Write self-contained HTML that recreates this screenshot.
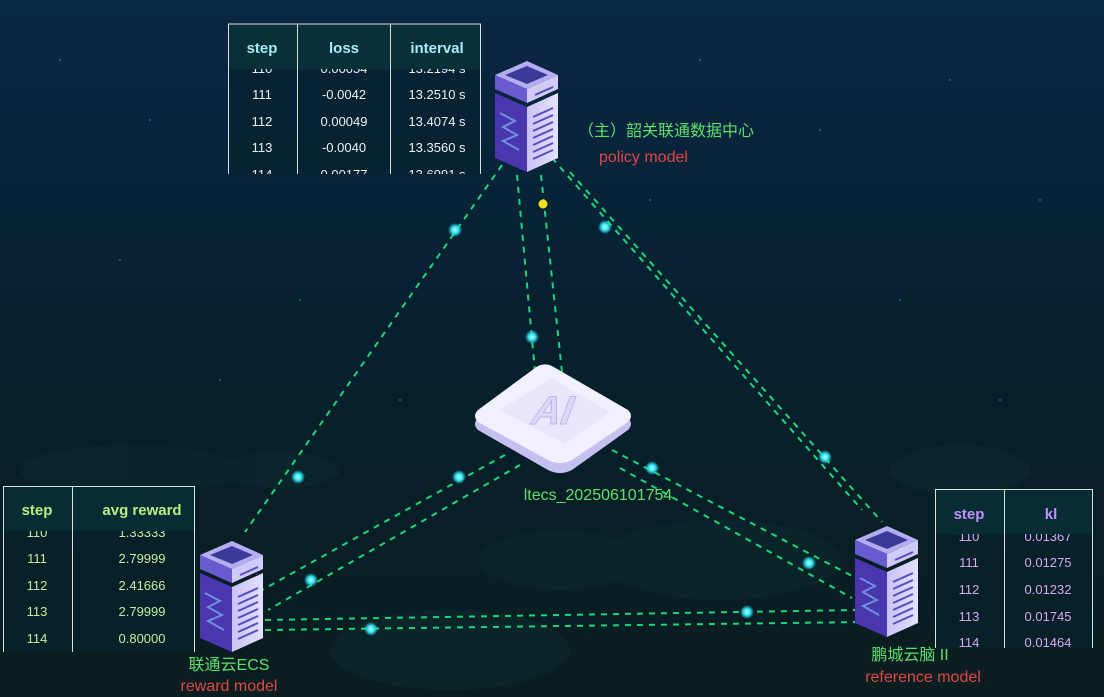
<!DOCTYPE html>
<html><head><meta charset="utf-8"><style>
html,body{margin:0;padding:0;width:1104px;height:697px;overflow:hidden;background:#071c2c}
svg{display:block}
text{font-family:"Liberation Sans","Noto Sans CJK SC",sans-serif}
</style></head><body>
<svg width="1104" height="697" viewBox="0 0 1104 697" xmlns="http://www.w3.org/2000/svg">
<defs>
<linearGradient id="bg" x1="0" y1="0" x2="0" y2="1">
<stop offset="0" stop-color="#0a2744"/><stop offset="0.5" stop-color="#07202e"/><stop offset="1" stop-color="#0a1e20"/>
</linearGradient>
<radialGradient id="dot"><stop offset="0" stop-color="#bff"/><stop offset="0.5" stop-color="#2de0f0"/><stop offset="1" stop-color="#2de0f0" stop-opacity="0"/></radialGradient>
<linearGradient id="front" x1="0" y1="0" x2="1" y2="0"><stop offset="0" stop-color="#c9c3f3"/><stop offset="1" stop-color="#e4e1ff"/></linearGradient>
<clipPath id="c1"><rect x="228" y="69" width="253" height="105"/></clipPath>
<clipPath id="c2"><rect x="3" y="531" width="192" height="121"/></clipPath>
<clipPath id="c3"><rect x="935" y="534" width="158" height="114"/></clipPath>
<g id="srv">
<polygon points="0,20 32,6 63,20 32,34" fill="#b4aef0"/>
<polygon points="10,20 32,11 53,20 32,29" fill="#3b3a9a"/>
<polygon points="0,20 32,34 32,48 0,34" fill="#6a5bd0"/>
<polygon points="32,34 63,20 63,34 32,48" fill="#cfcaf7"/>
<polygon points="0,38 32,52 32,117 0,103" fill="#4a37b0"/>
<polygon points="32,52 63,38 63,103 32,117" fill="url(#front)"/>
<g stroke="#5a4cc0" stroke-width="2"><line x1="38" y1="62" x2="58" y2="53"/><line x1="38" y1="69" x2="58" y2="60"/><line x1="38" y1="76" x2="58" y2="67"/><line x1="38" y1="83" x2="58" y2="74"/><line x1="38" y1="90" x2="58" y2="81"/><line x1="38" y1="97" x2="58" y2="88"/><line x1="38" y1="104" x2="58" y2="95"/><line x1="40" y1="40" x2="58" y2="32"/></g>
<path d="M5,58 L20,66 L8,72 L22,80 L8,86 L24,95" stroke="#7fb8f0" stroke-width="2" fill="none" opacity="0.7"/>
</g>
</defs>
<rect width="1104" height="697" fill="url(#bg)"/>
<g fill="#0e3034" opacity="0.35"><ellipse cx="130" cy="470" rx="110" ry="25"/><ellipse cx="280" cy="470" rx="60" ry="18"/><ellipse cx="560" cy="560" rx="80" ry="30"/><ellipse cx="720" cy="560" rx="120" ry="40"/><ellipse cx="960" cy="470" rx="70" ry="25"/><ellipse cx="450" cy="650" rx="120" ry="40"/></g>
<g fill="#3a8aa0" opacity="0.5">
<circle cx="60" cy="60" r="1.2"/><circle cx="150" cy="120" r="1.2"/><circle cx="700" cy="60" r="1.2"/><circle cx="820" cy="130" r="1.2"/><circle cx="950" cy="80" r="1.2"/><circle cx="1040" cy="200" r="1.2"/><circle cx="300" cy="300" r="1.2"/><circle cx="120" cy="260" r="1.2"/><circle cx="900" cy="300" r="1.2"/><circle cx="700" cy="320" r="1.2"/><circle cx="400" cy="400" r="1.2"/><circle cx="1000" cy="400" r="1.2"/><circle cx="220" cy="380" r="1.2"/><circle cx="650" cy="200" r="1.2"/></g>
<g stroke="#18d878" stroke-width="2" stroke-dasharray="6,6" fill="none">
<line x1="502" y1="165" x2="245" y2="532"/>
<line x1="517" y1="175" x2="535" y2="372"/>
<line x1="541" y1="175" x2="562" y2="372"/>
<line x1="552" y1="158" x2="862" y2="510"/>
<line x1="570" y1="172" x2="882" y2="522"/>
<line x1="505" y1="455" x2="262" y2="590"/>
<line x1="520" y1="465" x2="268" y2="610"/>
<line x1="612" y1="450" x2="856" y2="578"/>
<line x1="620" y1="468" x2="852" y2="598"/>
<line x1="265" y1="620" x2="856" y2="610"/>
<line x1="265" y1="630" x2="862" y2="622"/>
</g>
<g fill="url(#dot)">
<circle cx="455" cy="230" r="7"/><circle cx="298" cy="477" r="7"/><circle cx="532" cy="337" r="7"/><circle cx="605" cy="227" r="7"/><circle cx="825" cy="457" r="7"/><circle cx="459" cy="477" r="7"/><circle cx="311" cy="580" r="7"/><circle cx="652" cy="468" r="7"/><circle cx="809" cy="563" r="7"/><circle cx="371" cy="629" r="7"/><circle cx="747" cy="612" r="7"/></g>
<circle cx="543" cy="204" r="4.5" fill="#f0e020"/>
<g>
<path d="M552,372 L628,418 Q634,424 628,430 L572,470 Q560,476 548,470 L478,430 Q472,424 478,418 L535,374 Q543,368 552,372Z" fill="#c5c0ef"/>
<path d="M552,366 L628,410 Q634,416 628,422 L572,460 Q560,466 548,460 L478,422 Q472,416 478,410 L535,368 Q543,362 552,366Z" fill="#f1f0ff"/>
<path d="M551,378 L610,412 L565,444 L500,410Z" fill="#e8e6fb"/>
<text x="553" y="424" font-size="40" font-weight="bold" fill="#dcd8f6" stroke="#b9b3ea" transform="skewX(-20)" text-anchor="middle" dx="150">AI</text>
</g>
<use href="#srv" x="495" y="55"/>
<use href="#srv" x="200" y="535"/>
<use href="#srv" x="855" y="520"/>
<text x="578" y="136" font-size="16" fill="#5ee06a">（主）韶关联通数据中心</text>
<text x="599" y="162" font-size="16" fill="#e04848">policy model</text>
<text x="598" y="500" font-size="16" fill="#5ee06a" text-anchor="middle">ltecs_202506101754</text>
<text x="229" y="670" font-size="16" fill="#5ee06a" text-anchor="middle">联通云ECS</text>
<text x="229" y="691" font-size="16" fill="#e04848" text-anchor="middle">reward model</text>
<text x="910" y="660" font-size="16" fill="#5ee06a" text-anchor="middle">鹏城云脑 II</text>
<text x="923" y="682" font-size="16" fill="#e04848" text-anchor="middle">reference model</text>
<!-- policy table -->
<g font-size="13" fill="#e8f4f4" text-anchor="middle">
<rect x="228" y="24" width="253" height="150" fill="#06222c" opacity="0.6"/>
<g clip-path="url(#c1)">
<text x="262" y="73">110</text><text x="344" y="73">0.00054</text><text x="437" y="73">13.2194 s</text>
<text x="262" y="99">111</text><text x="344" y="99">-0.0042</text><text x="437" y="99">13.2510 s</text>
<text x="262" y="126">112</text><text x="344" y="126">0.00049</text><text x="437" y="126">13.4074 s</text>
<text x="262" y="152">113</text><text x="344" y="152">-0.0040</text><text x="437" y="152">13.3560 s</text>
<text x="262" y="179">114</text><text x="344" y="179">0.00177</text><text x="437" y="179">13.6991 s</text>
</g>
<rect x="228" y="24" width="253" height="45" fill="#083038"/>
<g stroke="#d8e0e0" stroke-width="1"><line x1="228" y1="24" x2="481" y2="24"/><line x1="228.5" y1="24" x2="228.5" y2="174"/><line x1="297.5" y1="24" x2="297.5" y2="174"/><line x1="390.5" y1="24" x2="390.5" y2="174"/><line x1="480.5" y1="24" x2="480.5" y2="174"/></g>
<g font-size="15" font-weight="bold" fill="#a8ecf8"><text x="262" y="53">step</text><text x="344" y="53">loss</text><text x="437" y="53">interval</text></g>
</g>
<!-- reward table -->
<g font-size="13" fill="#bff0a0" text-anchor="middle">
<rect x="3" y="486" width="192" height="166" fill="#06222c" opacity="0.6"/>
<g clip-path="url(#c2)">
<text x="37" y="537">110</text><text x="142" y="537">1.33333</text>
<text x="37" y="563">111</text><text x="142" y="563">2.79999</text>
<text x="37" y="590">112</text><text x="142" y="590">2.41666</text>
<text x="37" y="616">113</text><text x="142" y="616">2.79999</text>
<text x="37" y="643">114</text><text x="142" y="643">0.80000</text>
</g>
<rect x="3" y="486" width="192" height="45" fill="#072c34"/>
<g stroke="#d8e0e0"><line x1="3" y1="486.5" x2="195" y2="486.5"/><line x1="3.5" y1="486" x2="3.5" y2="652"/><line x1="72.5" y1="486" x2="72.5" y2="652"/><line x1="194.5" y1="486" x2="194.5" y2="652"/></g>
<g font-size="15" font-weight="bold" fill="#b8f080"><text x="37" y="515">step</text><text x="142" y="515">avg reward</text></g>
</g>
<!-- kl table -->
<g font-size="13" fill="#d8a8f0" text-anchor="middle">
<rect x="935" y="489" width="158" height="159" fill="#06222c" opacity="0.6"/>
<g clip-path="url(#c3)">
<text x="969" y="541">110</text><text x="1048" y="541">0.01367</text>
<text x="969" y="567">111</text><text x="1048" y="567">0.01275</text>
<text x="969" y="594">112</text><text x="1048" y="594">0.01232</text>
<text x="969" y="621">113</text><text x="1048" y="621">0.01745</text>
<text x="969" y="647">114</text><text x="1048" y="647">0.01464</text>
</g>
<rect x="935" y="489" width="158" height="45" fill="#072c34"/>
<g stroke="#d8e0e0"><line x1="935" y1="489.5" x2="1093" y2="489.5"/><line x1="935.5" y1="489" x2="935.5" y2="648"/><line x1="1004.5" y1="489" x2="1004.5" y2="648"/><line x1="1092.5" y1="489" x2="1092.5" y2="648"/></g>
<g font-size="15" font-weight="bold" fill="#c090ff"><text x="969" y="519">step</text><text x="1051" y="519">kl</text></g>
</g>
</svg>
</body></html>
